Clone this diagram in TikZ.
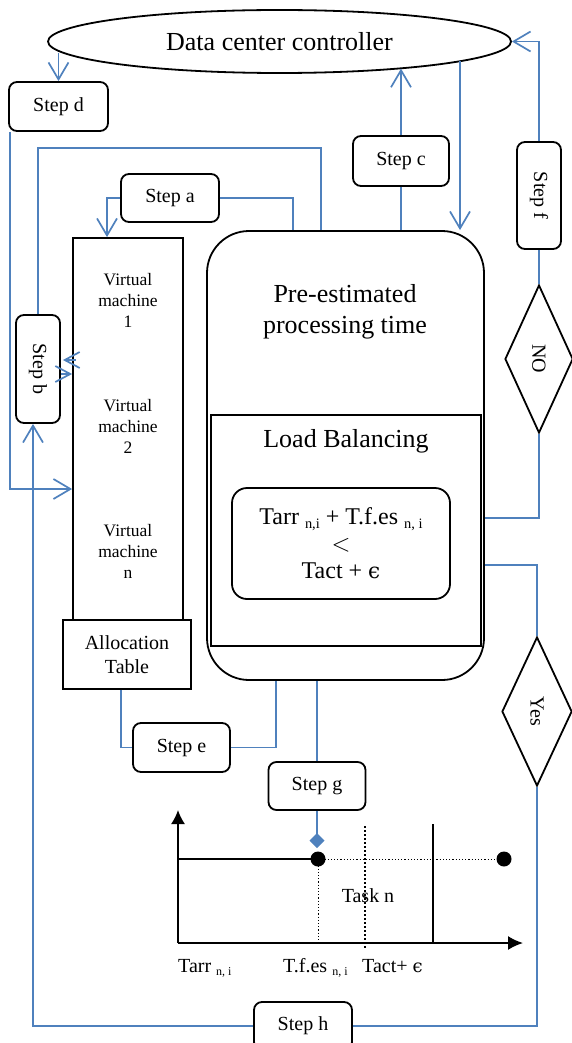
\documentclass[tikz,border=0pt]{standalone}
\usepackage{fontspec}
\setmainfont{Liberation Serif}
\newfontfamily\symfont{DejaVu Serif}
\usepackage{graphicx}
\usetikzlibrary{shapes.geometric,arrows.meta}
\definecolor{linkblue}{RGB}{79,129,189}
% small lowered index such as "n, i"
\newcommand{\lowidx}[1]{\raisebox{-0.35ex}{\scalebox{0.6}{#1}}}
\newcommand{\eps}{{\symfont\scalebox{0.9}{ϵ}}}

\begin{document}
\begin{tikzpicture}[x=1pt,y=-1pt,
  box/.style={draw,line width=1.8pt,inner sep=0pt},
  stepbox/.style={box,rounded corners=8pt,font=\fontsize{20}{24}\selectfont},
  link/.style={draw=linkblue,line width=1.7pt},
  tip/.style={link,-{Straight Barb[length=17pt,width=20pt]}},
  smalltip/.style={link,-{Straight Barb[length=15pt,width=16pt]}},
  vmtext/.style={align=center,font=\fontsize{17.5}{21}\selectfont},
  bigtext/.style={align=center,font=\fontsize{26}{31}\selectfont},
  axis/.style={draw,line width=1.7pt},
  chartlabel/.style={anchor=base west,inner sep=0pt,font=\fontsize{20}{24}\selectfont},
]
\useasboundingbox (0,0) rectangle (571,1043);

% controller
\node[box,ellipse,minimum width=463pt,minimum height=63pt,
      font=\fontsize{26}{31}\selectfont] (dcc) at (279.5,41.5) {Data center controller};

% step boxes
\node[stepbox,minimum width=99pt,minimum height=49pt] (stepd) at (58.5,106.5) {Step d};
\node[stepbox,minimum width=98pt,minimum height=48pt] (stepa) at (170,198) {Step a};
\node[stepbox,minimum width=96pt,minimum height=50pt] (stepc) at (401,161) {Step c};
\node[stepbox,minimum width=44pt,minimum height=107pt] (stepf) at (539,195.5) {\rotatebox{-90}{Step f}};
\node[stepbox,minimum width=44pt,minimum height=108pt] (stepb) at (38,369) {\rotatebox{-90}{Step b}};
\node[stepbox,minimum width=97pt,minimum height=49pt] (stepe) at (181.5,747.5) {Step e};
\node[stepbox,minimum width=97pt,minimum height=48pt] (stepg) at (317,786) {Step g};
\node[stepbox,minimum width=98pt,minimum height=48pt] (steph) at (303,1026) {Step h};

% virtual machines and allocation table
\node[box,minimum width=110pt,minimum height=382pt] (vm) at (128,429) {};
\node[vmtext] (vm1) at (128,300) {Virtual\\machine\\1};
\node[vmtext] (vm2) at (128,426) {Virtual\\machine\\2};
\node[vmtext] (vmn) at (128,551) {Virtual\\machine\\n};
\node[box,fill=white,minimum width=128pt,minimum height=69pt,align=center,
      font=\fontsize{20}{24}\selectfont] (alloc) at (127,654.5) {Allocation\\Table};

% processing block
\node[box,rounded corners=42pt,minimum width=277pt,minimum height=449pt] (big) at (345.5,455.5) {};
\node[bigtext] (pet) at (345,312) {Pre-estimated\\processing time};
\node[box,minimum width=270pt,minimum height=231pt] (lb) at (346,530.5) {};
\node[bigtext] (lbt) at (346,441) {Load Balancing};
\node[box,rounded corners=15pt,minimum width=218pt,minimum height=111pt,align=center,
      font=\fontsize{24}{27}\selectfont] (rule) at (341,543.5)
      {Tarr \lowidx{n,i} + T.f.es \lowidx{n, i}\\$<$\\Tact + \eps};

% decisions
\node[box,diamond,minimum width=68pt,minimum height=148pt,
      font=\fontsize{20}{24}\selectfont] (no) at (539,359) {\rotatebox{-90}{NO}};
\node[box,diamond,minimum width=70pt,minimum height=149pt,
      font=\fontsize{20}{24}\selectfont] (yes) at (537,711.5) {\rotatebox{-90}{Yes}};

% connectors
\draw[tip] (stepd.north |- dcc.183) -- (stepd.north);
\draw[tip] (stepc.north) -- (stepc.north |- dcc.-12);
\draw[link] (stepc.south) -- (stepc.south |- big.north);
\draw[tip] (460,0 |- dcc.-6) -- (460,0 |- big.north);
\draw[tip] (stepf.north) |- (dcc.east);
\draw[link] (stepf.south) -- (no.north);
\draw[link] (no.south) |- (big.east |- 0,518);
\draw[link] (yes.north) |- (big.east |- 0,565);
\draw[link] (yes.south) |- (steph.east);
\draw[tip] (steph.west) -| (33,0 |- stepb.south);
\draw[tip] ([xshift=2pt]stepd.south west) |- (vm.west |- 0,489);
\draw[link] (stepb.north) |- (321,148) -- (321,0 |- big.north);
\draw[tip] (stepa.west) -| (107,0 |- vm.north);
\draw[link] (stepa.east) -| (293,0 |- big.north);
\draw[smalltip] ([xshift=4pt]vm.west |- 0,360) -- ([xshift=2pt]stepb.east |- 0,360);
\draw[smalltip] (stepb.east |- 0,374) -- (vm.west |- 0,374);
\draw[link] (121,0 |- alloc.south) |- (stepe.west);
\draw[link] (stepe.east) -| (276,0 |- big.south);
\draw[link] (stepg.north) -- (stepg.north |- big.south);
\draw[link,-{Diamond[length=15pt,width=15pt,fill=linkblue]}] (stepg.south) -- (stepg.south |- 0,848);

% timing chart
\draw[axis,-{Latex[length=14pt,width=14pt]}] (178,943) -- (178,810);
\draw[axis,-{Latex[length=15pt,width=14pt]}] (178,943) -- (523,943);
\draw[axis] (178,859) -- (318,859);
\draw[line width=1pt,dash pattern=on 1.2pt off 2pt] (318,859) -- (504,859);
\draw[line width=1pt,dash pattern=on 1.2pt off 2pt] (318,859) -- (318,943);
\draw[line width=2.4pt,dash pattern=on 2pt off 2pt] (365,826) -- (365,948);
\draw[axis] (433,824) -- (433,943);
\fill (318,859) circle (7.5pt);
\fill (504,859) circle (7.5pt);
\node[font=\fontsize{20}{24}\selectfont] (task) at (368,896) {Task n};
\node[chartlabel] (tarr) at (178,972) {Tarr \lowidx{n, i}};
\node[chartlabel] (tfes) at (283,972) {T.f.es \lowidx{n, i}};
\node[chartlabel] (tact) at (362,972) {Tact+ \eps};
\end{tikzpicture}
\end{document}
